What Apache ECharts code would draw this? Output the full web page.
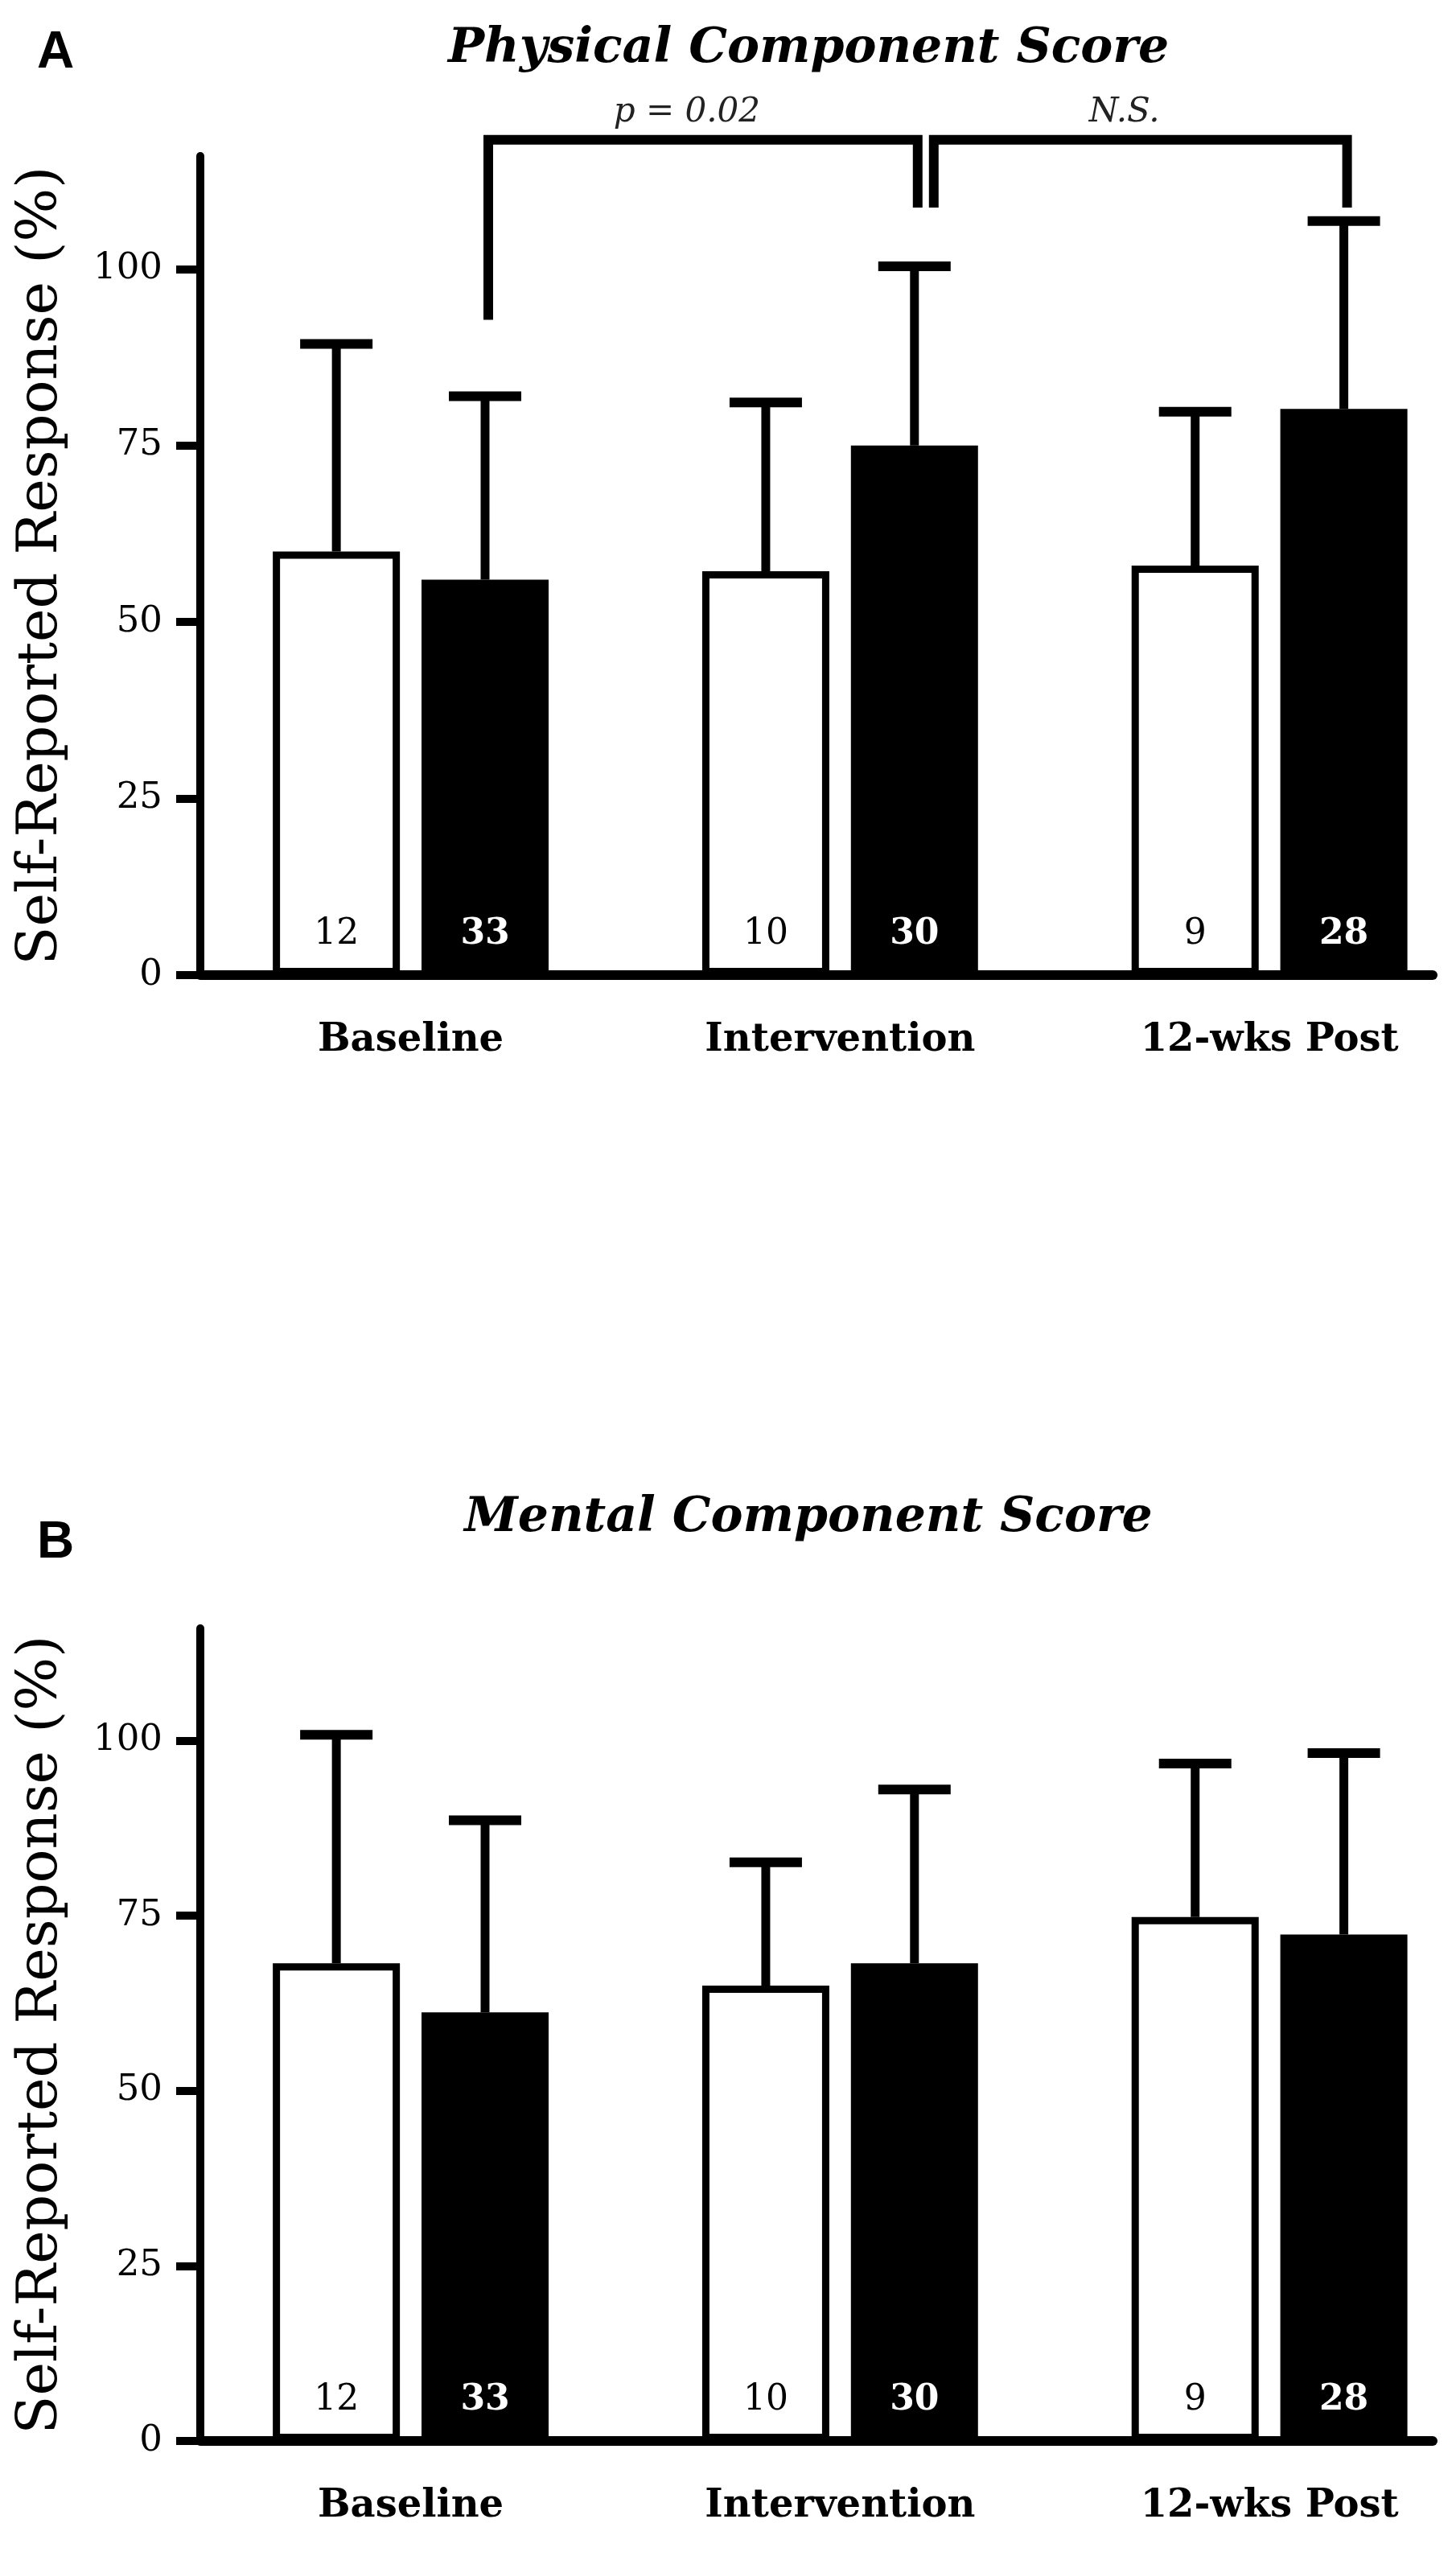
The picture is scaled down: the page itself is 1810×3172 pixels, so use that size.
<!DOCTYPE html>
<html>
<head>
<meta charset="utf-8">
<title>Physical / Mental Component Score</title>
<script src="https://cdn.jsdelivr.net/npm/echarts@6.0.0/dist/echarts.min.js"></script>
<style>
  html, body { margin: 0; padding: 0; background: #ffffff; }
  #J_chart { width: 1810px; height: 3172px; }
</style>
</head>
<body>
<div id="J_chart"></div>
<script>
'use strict';

var categories = ['Baseline', 'Intervention', '12-wks Post'];
var yTicks = [0, 25, 50, 75, 100];
var whiteN = [12, 10, 9];
var blackN = [33, 30, 28];

// panel A - physical
var physWhiteMean = [60, 57.2, 58];
var physWhiteSd = [29.4, 23.9, 21.8];
var physBlackMean = [56, 75, 80.2];
var physBlackSd = [26, 25.4, 26.6];

// panel B - mental
var mentWhiteMean = [68.2, 65, 74.8];
var mentWhiteSd = [32.6, 17.6, 21.9];
var mentBlackMean = [61.2, 68.2, 72.3];
var mentBlackSd = [27.4, 24.8, 25.9];

// significance brackets (panel A), between black bars
var bracketFrom = [0, 1];
var bracketTo = [1, 2];
var bracketLeftEnd = [92.8, 108.7];
var bracketRightEnd = [108.7, 108.7];
var bracketTop = 118.3;
var bracketText = ['p = 0.02', 'N.S.'];

var BAR_W = 158;
var BAR_GAP = 0.17;
var SHIFT = (BAR_W + BAR_W * BAR_GAP) / 2;
var SERIF = '"DejaVu Serif", "Liberation Serif", serif';

var sfChart = {
  barSeries: function(idx, mean, nList, isBlack){
    return {
      type: 'bar',
      xAxisIndex: idx,
      yAxisIndex: idx,
      barWidth: BAR_W,
      barGap: (BAR_GAP * 100) + '%',
      itemStyle: {
        color: isBlack ? '#000000' : '#ffffff',
        borderColor: '#000000',
        borderWidth: 9
      },
      label: {
        show: true,
        position: 'insideBottom',
        distance: 28,
        color: isBlack ? '#ffffff' : '#000000',
        fontFamily: SERIF,
        fontWeight: isBlack ? 'bold' : 'normal',
        fontSize: 44,
        formatter: function(p){ return String(nList[p.dataIndex]); }
      },
      z: 3,
      data: mean.map(function(v, i){ return [i + 1, v]; })
    };
  },
  errSeries: function(idx, mean, sd, shift){
    return {
      type: 'custom',
      xAxisIndex: idx,
      yAxisIndex: idx,
      z: 4,
      encode: {x: 0, y: [1, 2]},
      renderItem: function(params, api){
        var base = api.coord([api.value(0), api.value(1)]);
        var top = api.coord([api.value(0), api.value(2)]);
        var cx = base[0] + shift;
        return {
          type: 'group',
          children: [
            {type: 'line', shape: {x1: cx, y1: base[1], x2: cx, y2: top[1]},
              style: {stroke: '#000', lineWidth: 11}},
            {type: 'line', shape: {x1: cx - 45, y1: top[1], x2: cx + 45, y2: top[1]},
              style: {stroke: '#000', lineWidth: 12}}
          ]
        };
      },
      data: mean.map(function(v, i){ return [i + 1, v, v + sd[i]]; })
    };
  },
  bracketSeries: function(){
    return {
      type: 'custom',
      xAxisIndex: 0,
      yAxisIndex: 0,
      z: 5,
      clip: false,
      renderItem: function(params, api){
        var i = params.dataIndex;
        var l = api.coord([api.value(0), api.value(2)]);
        var r = api.coord([api.value(1), api.value(3)]);
        var ty = api.coord([api.value(0), bracketTop])[1];
        var xl = l[0] + SHIFT + 4 + (i > 0 ? 20 : 0);
        var xr = r[0] + SHIFT + 4;
        return {
          type: 'group',
          children: [
            {type: 'polyline',
              shape: {points: [[xl, l[1]], [xl, ty], [xr, ty], [xr, r[1]]]},
              style: {stroke: '#000', lineWidth: 12, fill: null, lineJoin: 'miter'}},
            {type: 'text', x: (xl + xr) / 2 - 20, y: ty - 34,
              style: {text: bracketText[i], fill: '#222', align: 'center', verticalAlign: 'middle',
                font: 'italic 42px ' + SERIF}}
          ]
        };
      },
      data: bracketFrom.map(function(f, i){
        return [f + 1, bracketTo[i] + 1, bracketLeftEnd[i], bracketRightEnd[i]];
      })
    };
  },
  xAxis: function(idx){
    return {
      type: 'value',
      gridIndex: idx,
      min: 0.51,
      max: 3.38,
      axisLine: {show: true, onZero: false, lineStyle: {color: '#000', width: 12}},
      axisTick: {show: false},
      splitLine: {show: false},
      axisLabel: {
        customValues: [1, 2, 3],
        margin: 58,
        color: '#000',
        fontFamily: SERIF,
        fontWeight: 'bold',
        fontSize: 48,
        formatter: function(v){ return categories[Math.round(v) - 1]; }
      }
    };
  },
  yAxis: function(idx){
    return {
      type: 'value',
      gridIndex: idx,
      min: 0,
      max: 116,
      name: 'Self-Reported Response (%)',
      nameLocation: 'middle',
      nameRotate: 90,
      nameGap: 162,
      nameTextStyle: {color: '#000', fontFamily: SERIF, fontSize: 70},
      axisLine: {show: true, lineStyle: {color: '#000', width: 10}},
      axisTick: {show: true, length: 30, customValues: yTicks, lineStyle: {color: '#000', width: 10}},
      splitLine: {show: false},
      axisLabel: {customValues: yTicks, margin: 47, color: '#000', fontFamily: SERIF, fontSize: 45}
    };
  },
  init: function(){
    var me = this;
    var chart = echarts.init(document.getElementById('J_chart'));
    var option = {
      backgroundColor: '#ffffff',
      animation: false,
      title: [
        {text: 'A', left: 46, top: 34, padding: 0,
          textStyle: {fontFamily: '"Liberation Sans", Arial, sans-serif', fontWeight: 'bold', fontSize: 64, color: '#000'}},
        {text: 'Physical Component Score', left: 1005, top: 31, padding: 0, textAlign: 'center',
          textStyle: {fontFamily: SERIF, fontStyle: 'italic', fontWeight: 'bold', fontSize: 60, color: '#000'}},
        {text: 'B', left: 46, top: 1886, padding: 0,
          textStyle: {fontFamily: '"Liberation Sans", Arial, sans-serif', fontWeight: 'bold', fontSize: 64, color: '#000'}},
        {text: 'Mental Component Score', left: 1005, top: 1857, padding: 0, textAlign: 'center',
          textStyle: {fontFamily: SERIF, fontStyle: 'italic', fontWeight: 'bold', fontSize: 60, color: '#000'}}
      ],
      grid: [
        {left: 249, width: 1532, top: 194, height: 1018},
        {left: 249, width: 1532, top: 2024, height: 1010}
      ],
      xAxis: [me.xAxis(0), me.xAxis(1)],
      yAxis: [me.yAxis(0), me.yAxis(1)],
      series: [
        me.barSeries(0, physWhiteMean, whiteN, false),
        me.barSeries(0, physBlackMean, blackN, true),
        me.errSeries(0, physWhiteMean, physWhiteSd, -SHIFT),
        me.errSeries(0, physBlackMean, physBlackSd, SHIFT),
        me.bracketSeries(),
        me.barSeries(1, mentWhiteMean, whiteN, false),
        me.barSeries(1, mentBlackMean, blackN, true),
        me.errSeries(1, mentWhiteMean, mentWhiteSd, -SHIFT),
        me.errSeries(1, mentBlackMean, mentBlackSd, SHIFT)
      ]
    };
    chart.setOption(option);
    return me;
  }
};

sfChart.init();
</script>
</body>
</html>
